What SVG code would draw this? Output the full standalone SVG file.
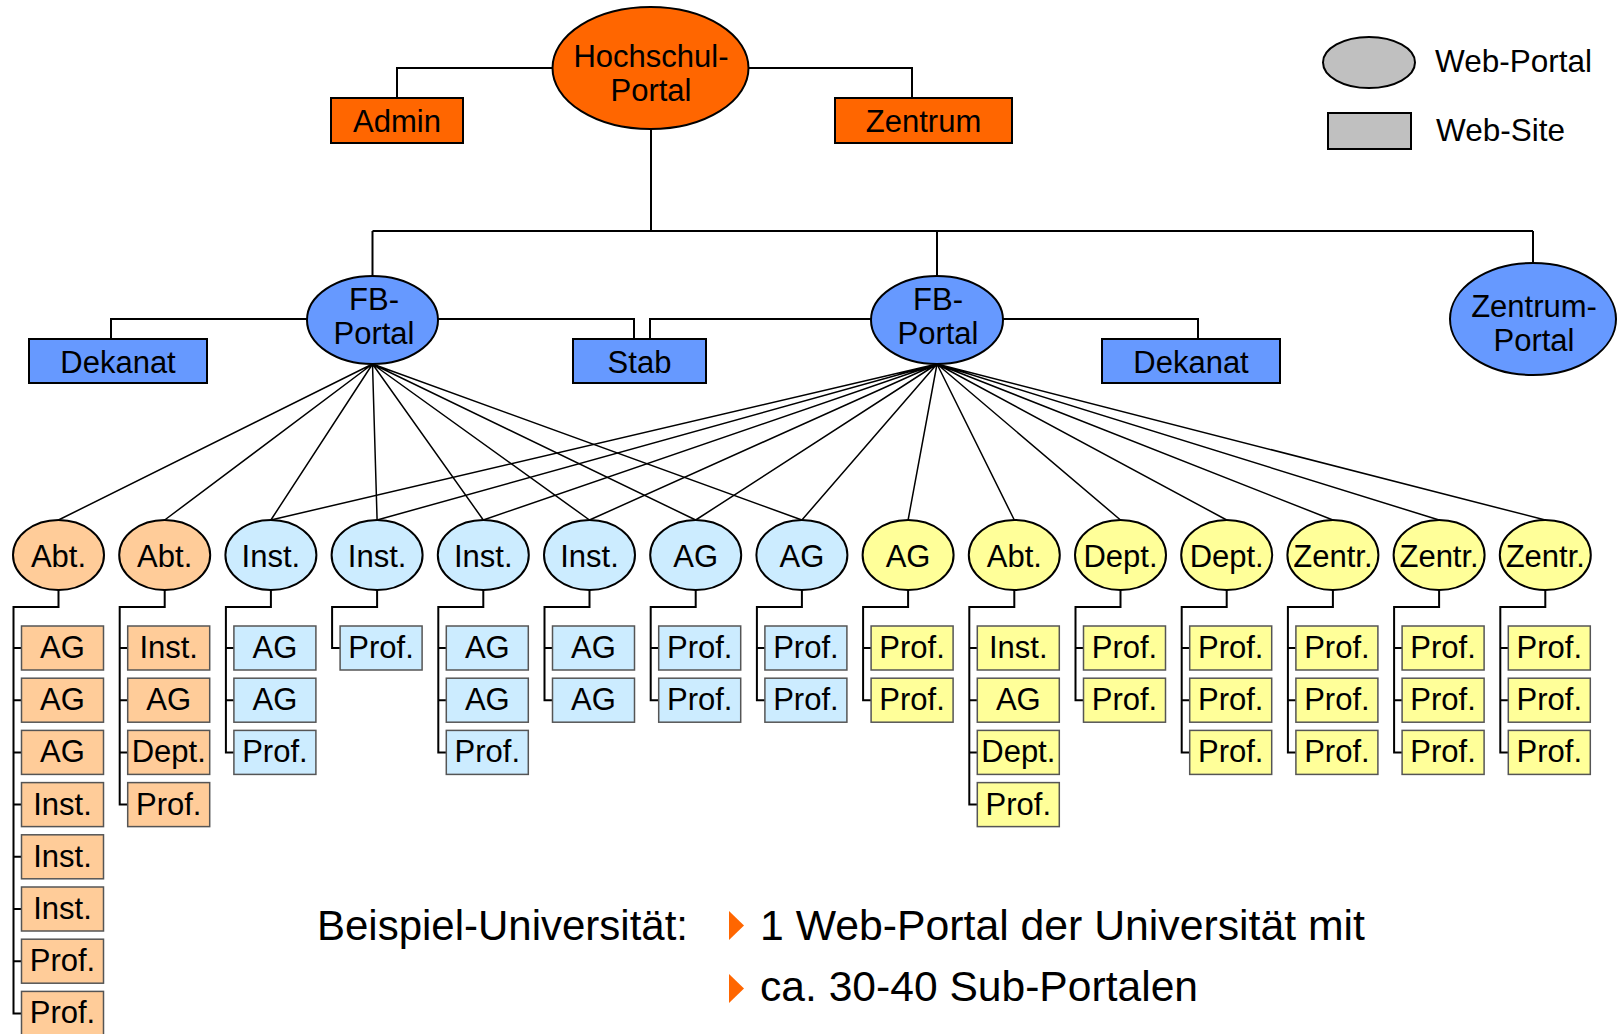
<svg xmlns="http://www.w3.org/2000/svg" width="1618" height="1034" viewBox="0 0 1618 1034">
<style>
.conn{fill:none;stroke:#000;stroke-width:2}
.fan{fill:none;stroke:#000;stroke-width:1.5}
.el{stroke:#000;stroke-width:2}
.bigbox{stroke:#000;stroke-width:2}
.box{stroke:#555;stroke-width:1.5}
.or{fill:#FF6600}.bl{fill:#6699FF}.lo{fill:#FFCC99}.lb{fill:#CCECFF}.ye{fill:#FFFF99}.gr{fill:#C0C0C0}
text{font-family:"Liberation Sans",Arial,sans-serif;font-size:31px;text-anchor:middle;fill:#000}
.lg{text-anchor:start;font-size:31.5px}
.big{text-anchor:start;font-size:42px}
</style>
<g id="connectors">
<path class="conn" d="M651 129V231M372.5 231H1533M372.5 231V276M937 231V276M1533 231V263"/>
<path class="conn" d="M552 68H397V98M749 68H912V98"/>
<path class="conn" d="M307 319H111V339M438 319H634V339M871 319H650V339M1003 319H1198V339"/>
<g class="fan">
<path d="M372.5 364L58.5 520M372.5 364L164.7 520M372.5 364L270.9 520M372.5 364L377.1 520M372.5 364L483.3 520M372.5 364L589.5 520M372.5 364L695.7 520M372.5 364L801.9 520"/>
<path d="M937 364L270.9 520M937 364L377.1 520M937 364L483.3 520M937 364L589.5 520M937 364L695.7 520M937 364L801.9 520M937 364L908.1 520M937 364L1014.3 520M937 364L1120.5 520M937 364L1226.7 520M937 364L1332.9 520M937 364L1439.1 520M937 364L1545.3 520"/>
</g>
<g transform="translate(58.5,0)"><path class="conn" d="M0 590V607H-45V1013.4H-37M-45 648H-37M-45 700.2H-37M-45 752.4H-37M-45 804.6H-37M-45 856.8H-37M-45 909H-37M-45 961.2H-37"/></g>
<g transform="translate(164.7,0)"><path class="conn" d="M0 590V607H-45V804.6H-37M-45 648H-37M-45 700.2H-37M-45 752.4H-37"/></g>
<g transform="translate(270.9,0)"><path class="conn" d="M0 590V607H-45V752.4H-37M-45 648H-37M-45 700.2H-37"/></g>
<g transform="translate(377.1,0)"><path class="conn" d="M0 590V607H-45V648H-37"/></g>
<g transform="translate(483.3,0)"><path class="conn" d="M0 590V607H-45V752.4H-37M-45 648H-37M-45 700.2H-37"/></g>
<g transform="translate(589.5,0)"><path class="conn" d="M0 590V607H-45V700.2H-37M-45 648H-37"/></g>
<g transform="translate(695.7,0)"><path class="conn" d="M0 590V607H-45V700.2H-37M-45 648H-37"/></g>
<g transform="translate(801.9,0)"><path class="conn" d="M0 590V607H-45V700.2H-37M-45 648H-37"/></g>
<g transform="translate(908.1,0)"><path class="conn" d="M0 590V607H-45V700.2H-37M-45 648H-37"/></g>
<g transform="translate(1014.3,0)"><path class="conn" d="M0 590V607H-45V804.6H-37M-45 648H-37M-45 700.2H-37M-45 752.4H-37"/></g>
<g transform="translate(1120.5,0)"><path class="conn" d="M0 590V607H-45V700.2H-37M-45 648H-37"/></g>
<g transform="translate(1226.7,0)"><path class="conn" d="M0 590V607H-45V752.4H-37M-45 648H-37M-45 700.2H-37"/></g>
<g transform="translate(1332.9,0)"><path class="conn" d="M0 590V607H-45V752.4H-37M-45 648H-37M-45 700.2H-37"/></g>
<g transform="translate(1439.1,0)"><path class="conn" d="M0 590V607H-45V752.4H-37M-45 648H-37M-45 700.2H-37"/></g>
<g transform="translate(1545.3,0)"><path class="conn" d="M0 590V607H-45V752.4H-37M-45 648H-37M-45 700.2H-37"/></g>
</g>

<g id="hochschul-portal"><ellipse class="el or" cx="650.5" cy="68" rx="98" ry="61"/><text x="651" y="67">Hochschul-</text><text x="651" y="101">Portal</text></g>
<g id="admin"><rect class="bigbox or" x="331" y="98" width="132" height="45"/><text x="397" y="132">Admin</text></g>
<g id="zentrum"><rect class="bigbox or" x="835" y="98" width="177" height="45"/><text x="923.5" y="132">Zentrum</text></g>

<g id="legend-portal"><ellipse class="el gr" cx="1369" cy="62.5" rx="46" ry="25.5"/><text class="lg" x="1435" y="72">Web-Portal</text></g>
<g id="legend-site"><rect class="bigbox gr" x="1328" y="113" width="83" height="36"/><text class="lg" x="1436" y="141">Web-Site</text></g>

<g id="fb-portal-1"><ellipse class="el bl" cx="372.5" cy="320" rx="65.5" ry="44"/><text x="374" y="310">FB-</text><text x="374" y="344">Portal</text></g>
<g id="dekanat-1"><rect class="bigbox bl" x="29" y="339" width="178" height="44"/><text x="118" y="373">Dekanat</text></g>
<g id="stab"><rect class="bigbox bl" x="573" y="339" width="133" height="44"/><text x="639.5" y="373">Stab</text></g>
<g id="fb-portal-2"><ellipse class="el bl" cx="937" cy="320" rx="66" ry="44"/><text x="938" y="310">FB-</text><text x="938" y="344">Portal</text></g>
<g id="dekanat-2"><rect class="bigbox bl" x="1102" y="339" width="178" height="44"/><text x="1191" y="373">Dekanat</text></g>
<g id="zentrum-portal"><ellipse class="el bl" cx="1533" cy="319" rx="83" ry="56"/><text x="1534" y="317">Zentrum-</text><text x="1534" y="351">Portal</text></g>

<g id="l2-1"><ellipse class="el lo" cx="58.5" cy="555" rx="45.5" ry="35"/><text x="58.5" y="566.5">Abt.</text></g>
<g id="l2-2"><ellipse class="el lo" cx="164.7" cy="555" rx="45.5" ry="35"/><text x="164.7" y="566.5">Abt.</text></g>
<g id="l2-3"><ellipse class="el lb" cx="270.9" cy="555" rx="45.5" ry="35"/><text x="270.9" y="566.5">Inst.</text></g>
<g id="l2-4"><ellipse class="el lb" cx="377.1" cy="555" rx="45.5" ry="35"/><text x="377.1" y="566.5">Inst.</text></g>
<g id="l2-5"><ellipse class="el lb" cx="483.3" cy="555" rx="45.5" ry="35"/><text x="483.3" y="566.5">Inst.</text></g>
<g id="l2-6"><ellipse class="el lb" cx="589.5" cy="555" rx="45.5" ry="35"/><text x="589.5" y="566.5">Inst.</text></g>
<g id="l2-7"><ellipse class="el lb" cx="695.7" cy="555" rx="45.5" ry="35"/><text x="695.7" y="566.5">AG</text></g>
<g id="l2-8"><ellipse class="el lb" cx="801.9" cy="555" rx="45.5" ry="35"/><text x="801.9" y="566.5">AG</text></g>
<g id="l2-9"><ellipse class="el ye" cx="908.1" cy="555" rx="45.5" ry="35"/><text x="908.1" y="566.5">AG</text></g>
<g id="l2-10"><ellipse class="el ye" cx="1014.3" cy="555" rx="45.5" ry="35"/><text x="1014.3" y="566.5">Abt.</text></g>
<g id="l2-11"><ellipse class="el ye" cx="1120.5" cy="555" rx="45.5" ry="35"/><text x="1120.5" y="566.5">Dept.</text></g>
<g id="l2-12"><ellipse class="el ye" cx="1226.7" cy="555" rx="45.5" ry="35"/><text x="1226.7" y="566.5">Dept.</text></g>
<g id="l2-13"><ellipse class="el ye" cx="1332.9" cy="555" rx="45.5" ry="35"/><text x="1332.9" y="566.5">Zentr.</text></g>
<g id="l2-14"><ellipse class="el ye" cx="1439.1" cy="555" rx="45.5" ry="35"/><text x="1439.1" y="566.5">Zentr.</text></g>
<g id="l2-15"><ellipse class="el ye" cx="1545.3" cy="555" rx="45.5" ry="35"/><text x="1545.3" y="566.5">Zentr.</text></g>

<g id="c1-1" transform="translate(58.5,626)"><rect class="box lo" x="-37" width="82" height="44"/><text x="4" y="32">AG</text></g>
<g id="c1-2" transform="translate(58.5,678.2)"><rect class="box lo" x="-37" width="82" height="44"/><text x="4" y="32">AG</text></g>
<g id="c1-3" transform="translate(58.5,730.4)"><rect class="box lo" x="-37" width="82" height="44"/><text x="4" y="32">AG</text></g>
<g id="c1-4" transform="translate(58.5,782.6)"><rect class="box lo" x="-37" width="82" height="44"/><text x="4" y="32">Inst.</text></g>
<g id="c1-5" transform="translate(58.5,834.8)"><rect class="box lo" x="-37" width="82" height="44"/><text x="4" y="32">Inst.</text></g>
<g id="c1-6" transform="translate(58.5,887)"><rect class="box lo" x="-37" width="82" height="44"/><text x="4" y="32">Inst.</text></g>
<g id="c1-7" transform="translate(58.5,939.2)"><rect class="box lo" x="-37" width="82" height="44"/><text x="4" y="32">Prof.</text></g>
<g id="c1-8" transform="translate(58.5,991.4)"><rect class="box lo" x="-37" width="82" height="44"/><text x="4" y="32">Prof.</text></g>

<g id="c2-1" transform="translate(164.7,626)"><rect class="box lo" x="-37" width="82" height="44"/><text x="4" y="32">Inst.</text></g>
<g id="c2-2" transform="translate(164.7,678.2)"><rect class="box lo" x="-37" width="82" height="44"/><text x="4" y="32">AG</text></g>
<g id="c2-3" transform="translate(164.7,730.4)"><rect class="box lo" x="-37" width="82" height="44"/><text x="4" y="32">Dept.</text></g>
<g id="c2-4" transform="translate(164.7,782.6)"><rect class="box lo" x="-37" width="82" height="44"/><text x="4" y="32">Prof.</text></g>

<g id="c3-1" transform="translate(270.9,626)"><rect class="box lb" x="-37" width="82" height="44"/><text x="4" y="32">AG</text></g>
<g id="c3-2" transform="translate(270.9,678.2)"><rect class="box lb" x="-37" width="82" height="44"/><text x="4" y="32">AG</text></g>
<g id="c3-3" transform="translate(270.9,730.4)"><rect class="box lb" x="-37" width="82" height="44"/><text x="4" y="32">Prof.</text></g>

<g id="c4-1" transform="translate(377.1,626)"><rect class="box lb" x="-37" width="82" height="44"/><text x="4" y="32">Prof.</text></g>

<g id="c5-1" transform="translate(483.3,626)"><rect class="box lb" x="-37" width="82" height="44"/><text x="4" y="32">AG</text></g>
<g id="c5-2" transform="translate(483.3,678.2)"><rect class="box lb" x="-37" width="82" height="44"/><text x="4" y="32">AG</text></g>
<g id="c5-3" transform="translate(483.3,730.4)"><rect class="box lb" x="-37" width="82" height="44"/><text x="4" y="32">Prof.</text></g>

<g id="c6-1" transform="translate(589.5,626)"><rect class="box lb" x="-37" width="82" height="44"/><text x="4" y="32">AG</text></g>
<g id="c6-2" transform="translate(589.5,678.2)"><rect class="box lb" x="-37" width="82" height="44"/><text x="4" y="32">AG</text></g>

<g id="c7-1" transform="translate(695.7,626)"><rect class="box lb" x="-37" width="82" height="44"/><text x="4" y="32">Prof.</text></g>
<g id="c7-2" transform="translate(695.7,678.2)"><rect class="box lb" x="-37" width="82" height="44"/><text x="4" y="32">Prof.</text></g>

<g id="c8-1" transform="translate(801.9,626)"><rect class="box lb" x="-37" width="82" height="44"/><text x="4" y="32">Prof.</text></g>
<g id="c8-2" transform="translate(801.9,678.2)"><rect class="box lb" x="-37" width="82" height="44"/><text x="4" y="32">Prof.</text></g>

<g id="c9-1" transform="translate(908.1,626)"><rect class="box ye" x="-37" width="82" height="44"/><text x="4" y="32">Prof.</text></g>
<g id="c9-2" transform="translate(908.1,678.2)"><rect class="box ye" x="-37" width="82" height="44"/><text x="4" y="32">Prof.</text></g>

<g id="c10-1" transform="translate(1014.3,626)"><rect class="box ye" x="-37" width="82" height="44"/><text x="4" y="32">Inst.</text></g>
<g id="c10-2" transform="translate(1014.3,678.2)"><rect class="box ye" x="-37" width="82" height="44"/><text x="4" y="32">AG</text></g>
<g id="c10-3" transform="translate(1014.3,730.4)"><rect class="box ye" x="-37" width="82" height="44"/><text x="4" y="32">Dept.</text></g>
<g id="c10-4" transform="translate(1014.3,782.6)"><rect class="box ye" x="-37" width="82" height="44"/><text x="4" y="32">Prof.</text></g>

<g id="c11-1" transform="translate(1120.5,626)"><rect class="box ye" x="-37" width="82" height="44"/><text x="4" y="32">Prof.</text></g>
<g id="c11-2" transform="translate(1120.5,678.2)"><rect class="box ye" x="-37" width="82" height="44"/><text x="4" y="32">Prof.</text></g>

<g id="c12-1" transform="translate(1226.7,626)"><rect class="box ye" x="-37" width="82" height="44"/><text x="4" y="32">Prof.</text></g>
<g id="c12-2" transform="translate(1226.7,678.2)"><rect class="box ye" x="-37" width="82" height="44"/><text x="4" y="32">Prof.</text></g>
<g id="c12-3" transform="translate(1226.7,730.4)"><rect class="box ye" x="-37" width="82" height="44"/><text x="4" y="32">Prof.</text></g>

<g id="c13-1" transform="translate(1332.9,626)"><rect class="box ye" x="-37" width="82" height="44"/><text x="4" y="32">Prof.</text></g>
<g id="c13-2" transform="translate(1332.9,678.2)"><rect class="box ye" x="-37" width="82" height="44"/><text x="4" y="32">Prof.</text></g>
<g id="c13-3" transform="translate(1332.9,730.4)"><rect class="box ye" x="-37" width="82" height="44"/><text x="4" y="32">Prof.</text></g>

<g id="c14-1" transform="translate(1439.1,626)"><rect class="box ye" x="-37" width="82" height="44"/><text x="4" y="32">Prof.</text></g>
<g id="c14-2" transform="translate(1439.1,678.2)"><rect class="box ye" x="-37" width="82" height="44"/><text x="4" y="32">Prof.</text></g>
<g id="c14-3" transform="translate(1439.1,730.4)"><rect class="box ye" x="-37" width="82" height="44"/><text x="4" y="32">Prof.</text></g>

<g id="c15-1" transform="translate(1545.3,626)"><rect class="box ye" x="-37" width="82" height="44"/><text x="4" y="32">Prof.</text></g>
<g id="c15-2" transform="translate(1545.3,678.2)"><rect class="box ye" x="-37" width="82" height="44"/><text x="4" y="32">Prof.</text></g>
<g id="c15-3" transform="translate(1545.3,730.4)"><rect class="box ye" x="-37" width="82" height="44"/><text x="4" y="32">Prof.</text></g>

<g id="caption">
<text class="big" x="317" y="940" textLength="371" lengthAdjust="spacingAndGlyphs">Beispiel-Universität:</text>
<polygon fill="#FF6600" points="729,911 744,925.5 729,940"/>
<text class="big" x="760" y="940" textLength="605" lengthAdjust="spacingAndGlyphs">1 Web-Portal der Universität mit</text>
<polygon fill="#FF6600" points="729,974 744,988.5 729,1003"/>
<text class="big" x="760" y="1001" textLength="438" lengthAdjust="spacingAndGlyphs">ca. 30-40 Sub-Portalen</text>
</g>
</svg>
